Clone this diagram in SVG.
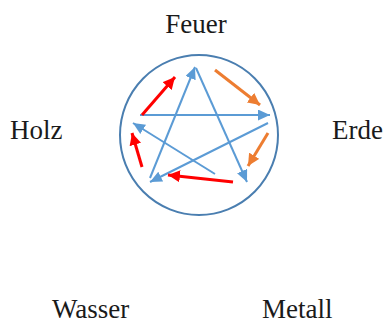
<svg xmlns="http://www.w3.org/2000/svg" width="387" height="325" viewBox="0 0 387 325">
<style>
.lbl{font-family:"Liberation Serif","Times New Roman",serif;font-size:27px;fill:#1a1a1a}
.b{stroke:#5B9BD5;stroke-width:2;fill:none}
.r{stroke:#FF0000;stroke-width:3;fill:none}
.o{stroke:#ED7D31;stroke-width:3;fill:none}
</style>
<defs>
<marker id="mb" markerUnits="userSpaceOnUse" markerWidth="12" markerHeight="11" refX="12" refY="5.5" orient="auto"><path d="M0,0 L12,5.5 L0,11 z" fill="#5B9BD5"/></marker>
<marker id="mr" markerUnits="userSpaceOnUse" markerWidth="12" markerHeight="12" refX="12" refY="6" orient="auto"><path d="M0,0 L12,6 L0,12 z" fill="#FF0000"/></marker>
<marker id="mo" markerUnits="userSpaceOnUse" markerWidth="12" markerHeight="12" refX="12" refY="6" orient="auto"><path d="M0,0 L12,6 L0,12 z" fill="#ED7D31"/></marker>
</defs>
<g id="circle"><ellipse cx="199" cy="135" rx="79" ry="80" fill="none" stroke="#4A7EB0" stroke-width="2"/></g>
<g id="Feuer"><text class="lbl" x="196" y="33" text-anchor="middle">Feuer</text></g>
<g id="Holz"><text class="lbl" x="10" y="139">Holz</text></g>
<g id="Erde"><text class="lbl" x="332" y="139">Erde</text></g>
<g id="Wasser"><text class="lbl" x="52" y="318">Wasser</text></g>
<g id="Metall"><text class="lbl" x="262" y="318">Metall</text></g>
<g id="connectors">
<line class="b" x1="150" y1="178" x2="195" y2="67" marker-end="url(#mb)"/>
<line class="b" x1="196" y1="68" x2="247" y2="182" marker-end="url(#mb)"/>
<line class="b" x1="140" y1="115" x2="270" y2="115" marker-end="url(#mb)"/>
<line class="b" x1="268" y1="123" x2="150" y2="182" marker-end="url(#mb)"/>
<line class="b" x1="215" y1="174" x2="133" y2="123" marker-end="url(#mb)"/>
<line class="r" x1="142" y1="115" x2="175" y2="77" marker-end="url(#mr)"/>
<line class="r" x1="142" y1="167" x2="132" y2="133" marker-end="url(#mr)"/>
<line class="r" x1="233" y1="182" x2="168" y2="175" marker-end="url(#mr)"/>
<line class="o" x1="215" y1="70" x2="260" y2="105" marker-end="url(#mo)"/>
<line class="o" x1="268" y1="133" x2="248" y2="166" marker-end="url(#mo)"/>
</g>
</svg>
